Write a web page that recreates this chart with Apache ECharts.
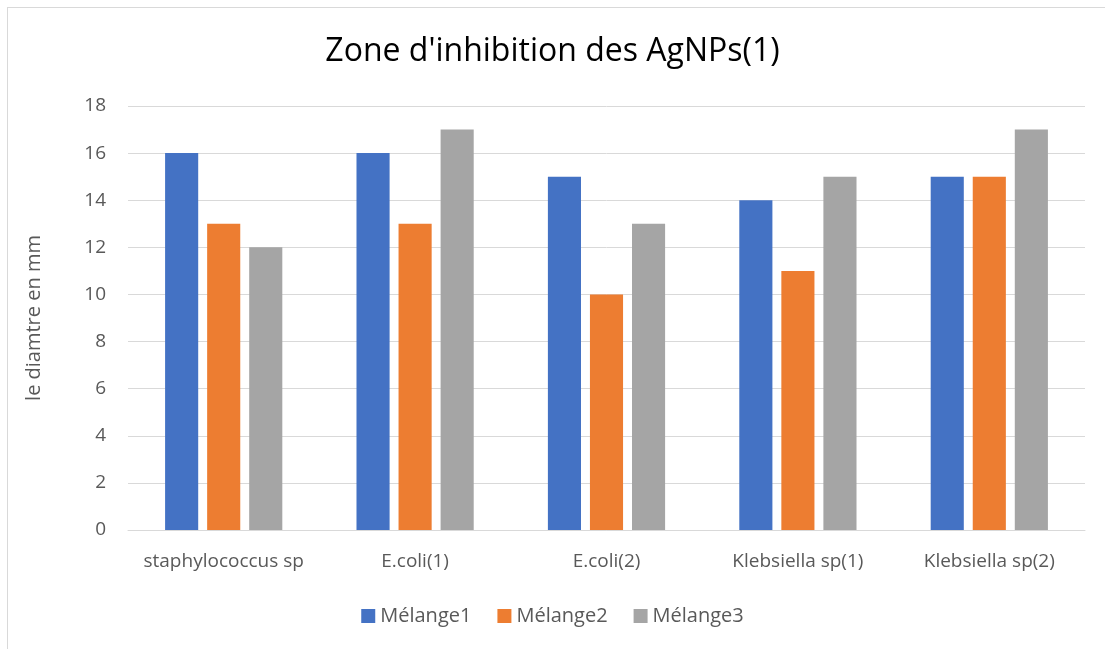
<!DOCTYPE html>
<html>
<head>
<meta charset="utf-8">
<script src="https://cdn.jsdelivr.net/npm/echarts@6/dist/echarts.min.js"></script>
<style>
  html, body { margin: 0; padding: 0; background: #fff; }
  #frame { position: absolute; left: 7px; top: 7px; width: 1200px; height: 700px; border: 1px solid #d9d9d9; }
  #chart { position: absolute; left: 0; top: 0; width: 1105px; height: 649px; }
</style>
</head>
<body>
<div id="frame"></div>
<div id="chart"></div>
<script>
// données
const categories = ['staphylococcus sp', 'E.coli(1)', 'E.coli(2)', 'Klebsiella sp(1)', 'Klebsiella sp(2)']
const melange1 = [16, 16, 15, 14, 15]
const melange2 = [13, 13, 10, 11, 15]
const melange3 = [12, 17, 13, 15, 17]
const seriesNames = ['Mélange1', 'Mélange2', 'Mélange3']
const colors = ['#4472c4', '#ed7d31', '#a5a5a5']

const font = 'Open Sans'
const chart = echarts.init(document.getElementById('chart'))
const mkSeries = (name, data, i) => ({
  name: name,
  type: 'bar',
  data: data,
  barWidth: '17.3%',
  barGap: '27%',
  itemStyle: { color: colors[i] }
})
let option = {
  animation: false,
  textStyle: { fontFamily: font },
  title: {
    text: "Zone d'inhibition des AgNPs(1)",
    left: 'center',
    top: 31,
    textStyle: { fontFamily: font, fontSize: 32, fontWeight: 'normal', color: '#000' }
  },
  legend: {
    data: seriesNames,
    bottom: 18,
    left: 'center',
    itemWidth: 14,
    itemHeight: 14,
    itemGap: 26,
    itemTextGap: 6,
    icon: 'rect',
    textStyle: { fontFamily: font, fontSize: 20, color: '#595959' }
  },
  grid: { left: 128, right: 20, top: 106, bottom: 119, containLabel: false },
  xAxis: {
    type: 'category',
    data: categories,
    axisLine: { lineStyle: { color: '#d9d9d9', width: 1 } },
    axisTick: { show: false },
    axisLabel: { fontFamily: font, fontSize: 19, color: '#595959', margin: 22, interval: 0, hideOverlap: false }
  },
  yAxis: {
    type: 'value',
    min: 0,
    max: 18,
    interval: 2,
    name: 'le diamtre en mm',
    nameLocation: 'middle',
    nameGap: 84,
    nameTextStyle: { fontFamily: font, fontSize: 20, color: '#595959' },
    axisLine: { show: false },
    axisTick: { show: false },
    axisLabel: { fontFamily: font, fontSize: 19, color: '#595959', margin: 22 },
    splitLine: { lineStyle: { color: '#d9d9d9', width: 1 } }
  },
  series: [
    mkSeries(seriesNames[0], melange1, 0),
    mkSeries(seriesNames[1], melange2, 1),
    mkSeries(seriesNames[2], melange3, 2)
  ]
}
chart.setOption(option)
</script>
</body>
</html>
